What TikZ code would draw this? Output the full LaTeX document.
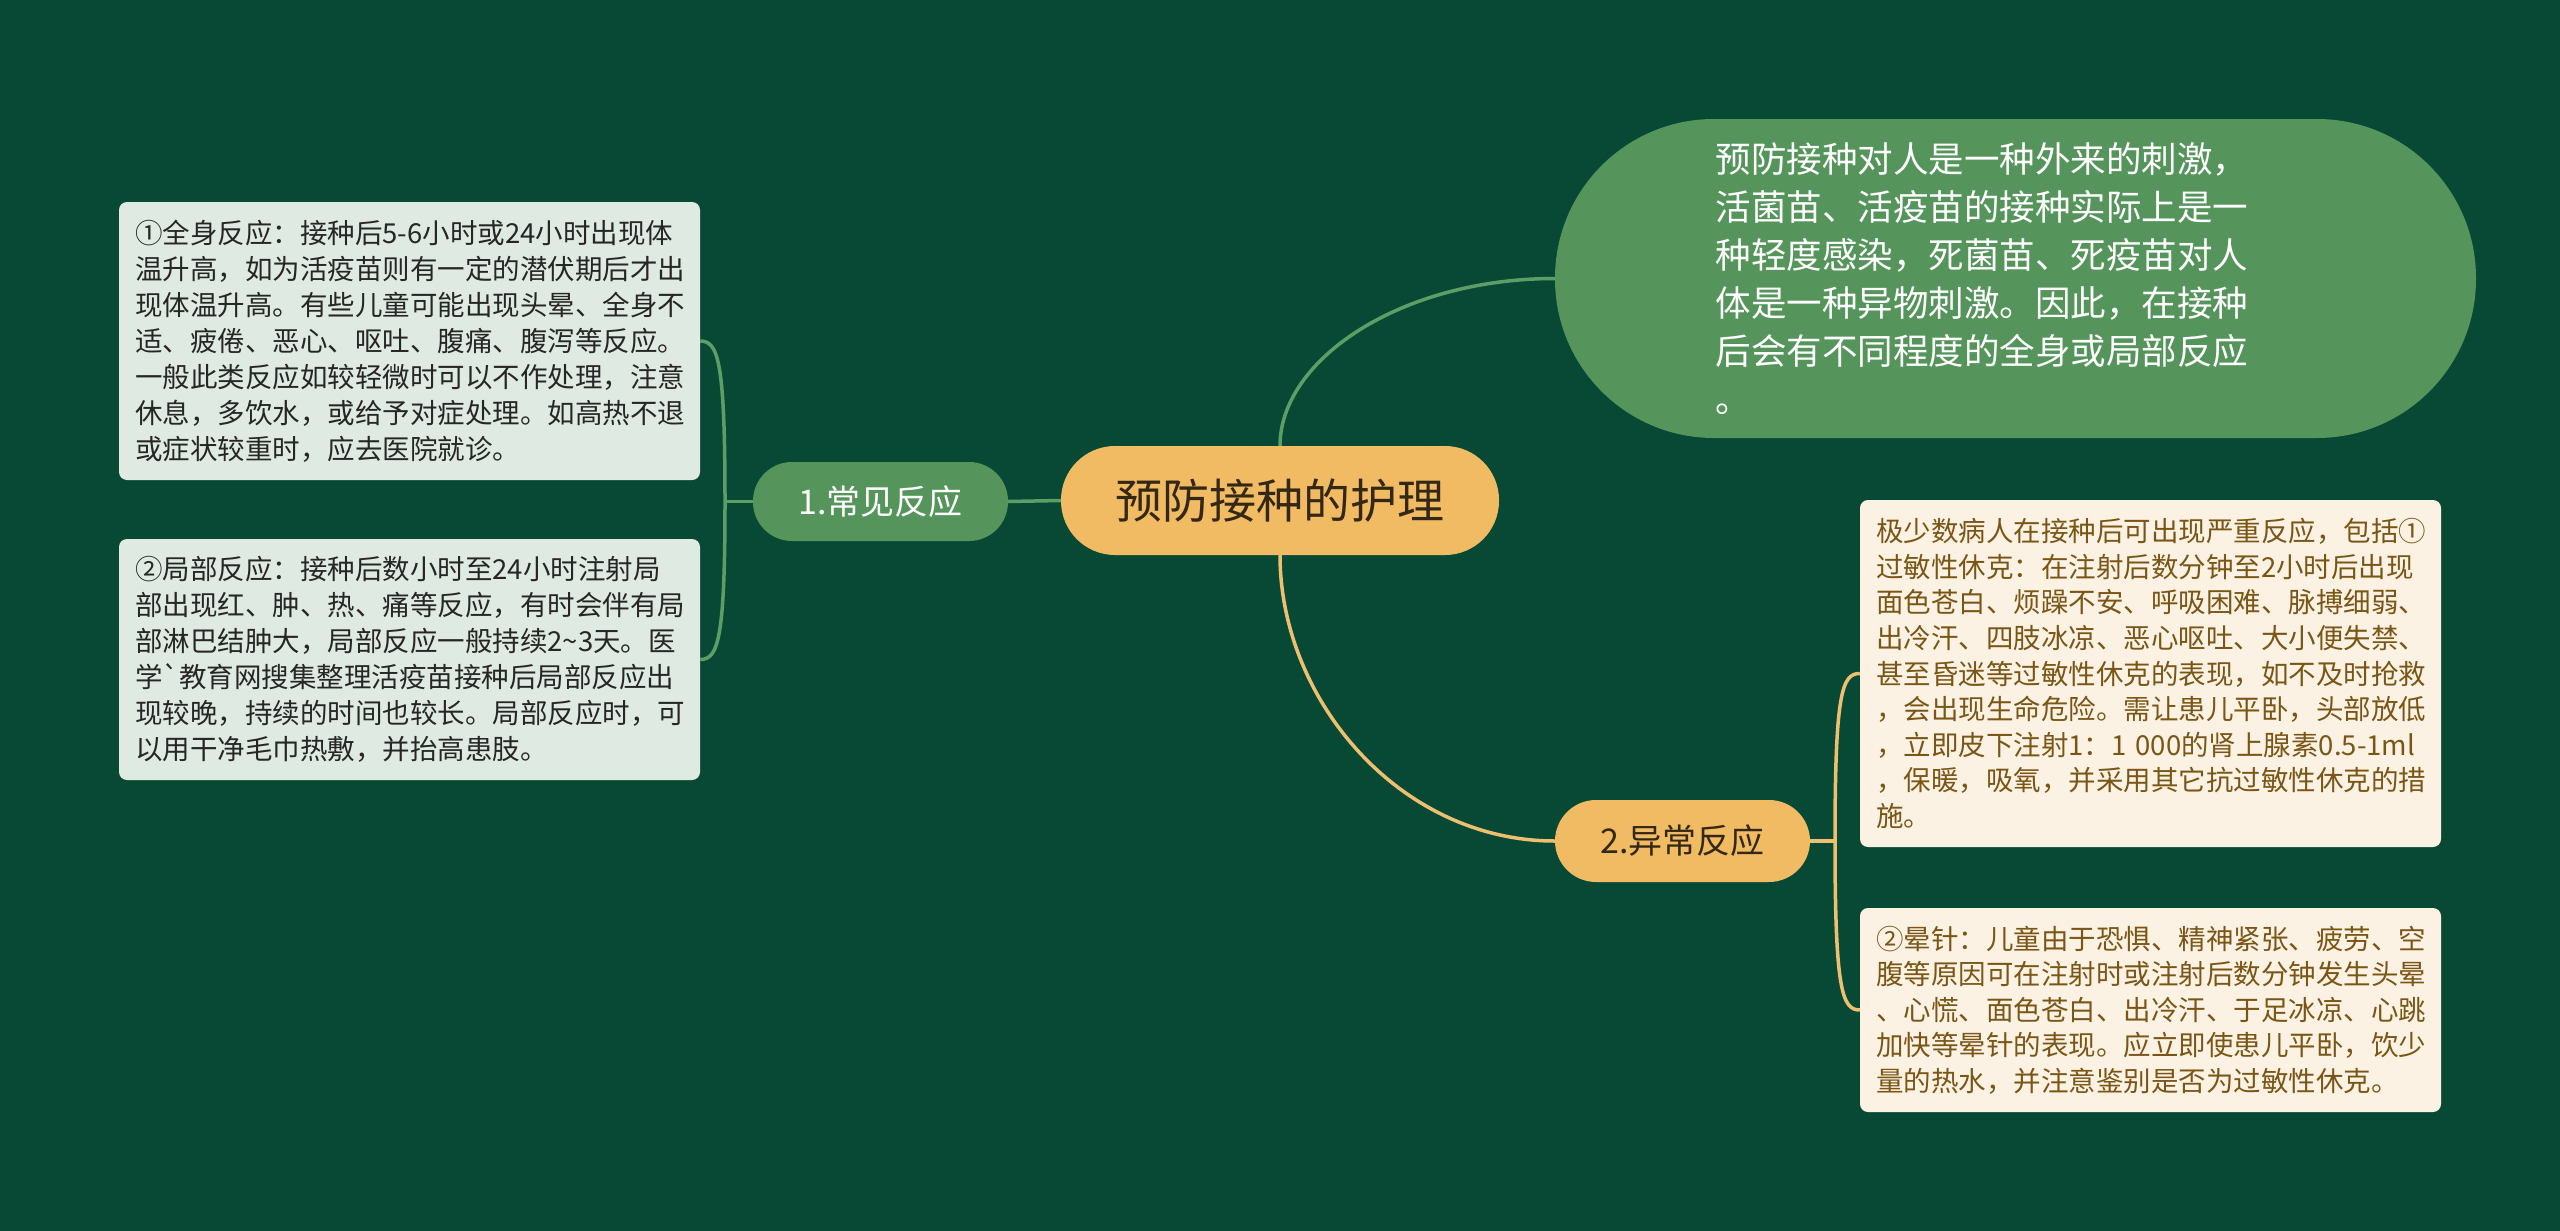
\documentclass[tikz,border=0pt]{standalone}
\usepackage{fontspec}
\setmainfont{Noto Sans CJK SC}[Ligatures=TeXOff]
\definecolor{bg}{RGB}{8,73,54}
\definecolor{gnode}{RGB}{85,149,92}
\definecolor{gline}{RGB}{92,158,102}
\definecolor{onode}{RGB}{240,187,99}
\definecolor{oline}{RGB}{236,192,110}
\definecolor{lbox}{RGB}{223,234,226}
\definecolor{cbox}{RGB}{252,242,227}
\definecolor{btext}{RGB}{122,86,22}
\definecolor{dtext}{RGB}{52,40,20}
\definecolor{ktext}{RGB}{38,38,38}
\tikzset{
  leftbox/.style={fill=lbox, rounded corners=8pt, text=ktext, align=left,
    text width=549pt, inner xsep=16pt, inner ysep=0pt, minimum width=581pt,
    font=\fontsize{27.5}{36}\selectfont},
  rightbox/.style={fill=cbox, rounded corners=8pt, text=btext, align=left,
    text width=549pt, inner xsep=16pt, inner ysep=0pt, minimum width=581pt,
    font=\fontsize{27.5}{35.6}\selectfont},
  gconn/.style={draw=gline, line width=3.5pt},
  oconn/.style={draw=oline, line width=3.5pt},
}
\begin{document}
\begin{tikzpicture}[x=1pt,y=-1pt]
\useasboundingbox (0,0) rectangle (2560,1231);
\fill[bg] (0,0) rectangle (2560,1231);

\coordinate (jl) at (725,501.5);
\coordinate (jr) at (1835,841);

\node[fill=onode, rounded corners=54pt, minimum width=438pt, minimum height=109pt,
  text=dtext, font=\fontsize{47}{56}\selectfont, inner sep=0pt] (c) at (1280,500.5) {预防接种的护理};
\node[fill=gnode, rounded corners=39pt, minimum width=255pt, minimum height=79pt,
  text=white, font=\fontsize{34}{40}\selectfont, inner sep=0pt] (n1) at (880.5,501.5) {1.常见反应};
\node[fill=onode, rounded corners=41pt, minimum width=255pt, minimum height=82pt,
  text=dtext, font=\fontsize{34}{40}\selectfont, inner sep=0pt] (n2) at (1682.5,841) {2.异常反应};
\node[fill=gnode, rounded corners=159pt, minimum width=921pt, minimum height=319pt,
  text=white, align=left, text width=600pt, inner sep=0pt,
  font=\fontsize{35.5}{48}\selectfont] (t) at (2015.5,278.5)
  {预防接种对人是一种外来的刺激，\\
   活菌苗、活疫苗的接种实际上是一\\
   种轻度感染，死菌苗、死疫苗对人\\
   体是一种异物刺激。因此，在接种\\
   后会有不同程度的全身或局部反应\\
   。};

\node[leftbox, minimum height=278pt] (b1) at (409.5,341)
  {①全身反应：接种后5-6小时或24小时出现体\\
   温升高，如为活疫苗则有一定的潜伏期后才出\\
   现体温升高。有些儿童可能出现头晕、全身不\\
   适、疲倦、恶心、呕吐、腹痛、腹泻等反应。\\
   一般此类反应如较轻微时可以不作处理，注意\\
   休息，多饮水，或给予对症处理。如高热不退\\
   或症状较重时，应去医院就诊。};
\node[leftbox, minimum height=241pt] (b2) at (409.5,659.5)
  {②局部反应：接种后数小时至24小时注射局\\
   部出现红、肿、热、痛等反应，有时会伴有局\\
   部淋巴结肿大，局部反应一般持续2\textasciitilde 3天。医\\
   学\symbol{96}教育网搜集整理活疫苗接种后局部反应出\\
   现较晚，持续的时间也较长。局部反应时，可\\
   以用干净毛巾热敷，并抬高患肢。};
\node[rightbox, minimum height=347pt] (b3) at (2150.5,673.5)
  {极少数病人在接种后可出现严重反应，包括①\\
   过敏性休克：在注射后数分钟至2小时后出现\\
   面色苍白、烦躁不安、呼吸困难、脉搏细弱、\\
   出冷汗、四肢冰凉、恶心呕吐、大小便失禁、\\
   甚至昏迷等过敏性休克的表现，如不及时抢救\\
   ，会出现生命危险。需让患儿平卧，头部放低\\
   ，立即皮下注射1：1 000的肾上腺素0.5-1ml\\
   ，保暖，吸氧，并采用其它抗过敏性休克的措\\
   施。};
\node[rightbox, minimum height=204pt] (b4) at (2150.5,1010)
  {②晕针：儿童由于恐惧、精神紧张、疲劳、空\\
   腹等原因可在注射时或注射后数分钟发生头晕\\
   、心慌、面色苍白、出冷汗、于足冰凉、心跳\\
   加快等晕针的表现。应立即使患儿平卧，饮少\\
   量的热水，并注意鉴别是否为过敏性休克。};

\draw[gconn] (c.west) -- (n1.east);
\draw[gconn] (n1.west) -- (jl);
\draw[gconn] (b1.east) .. controls (718,341) and (725,360) .. (jl)
                       .. controls (725,640) and (718,659.5) .. (b2.east);
\draw[gconn] (c.north) .. controls (1280,360) and (1400,278.5) .. (t.west);
\draw[oconn] (c.south) .. controls (1280,700) and (1400,841) .. (n2.west);
\draw[oconn] (n2.east) -- (jr);
\draw[oconn] (b3.west) .. controls (1842,673.5) and (1835,692) .. (jr)
                       .. controls (1835,990) and (1842,1010) .. (b4.west);
\end{tikzpicture}
\end{document}
